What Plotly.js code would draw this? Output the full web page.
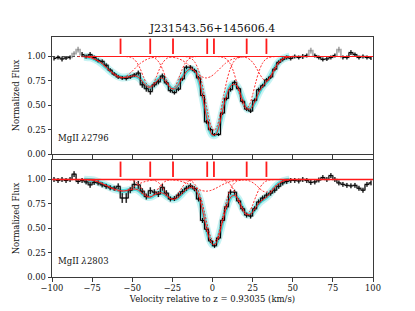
<!DOCTYPE html>
<html>
<head>
<meta charset="utf-8">
<script src="https://cdn.plot.ly/plotly-3.0.1.min.js"></script>
<style>html,body{margin:0;padding:0;background:#fff}#chart{width:415px;height:311px}</style>
</head>
<body>
<div id="chart"></div>
<script>
// ---------- data ----------
const titleText = "J231543.56+145606.4";
const lineLabels = ["MgII <i>λ</i>2796", "MgII <i>λ</i>2803"];
const redshiftLabel = "Velocity relative to z = 0.93035 (km/s)";
const compCenters = [-57.3, -38.8, -24.6, -3.3, 0.9, 21.3, 33.6];

const velBins = [-98.75,-96.25,-93.75,-91.25,-88.75,-86.25,-83.75,-81.25,-78.75,-76.25,
 -73.75,-71.25,-68.75,-66.25,-63.75,-61.25,-58.75,-56.25,-53.75,-51.25,
 -48.75,-46.25,-43.75,-41.25,-38.75,-36.25,-33.75,-31.25,-28.75,-26.25,
 -23.75,-21.25,-18.75,-16.25,-13.75,-11.25,-8.75,-6.25,-3.75,-1.25,
 1.25,3.75,6.25,8.75,11.25,13.75,16.25,18.75,21.25,23.75,
 26.25,28.75,31.25,33.75,36.25,38.75,41.25,43.75,46.25,48.75,
 51.25,53.75,56.25,58.75,61.25,63.75,66.25,68.75,71.25,73.75,
 76.25,78.75,81.25,83.75,86.25,88.75,91.25,93.75,96.25,98.75];

const flux2796 = [0.98,0.99,0.975,0.985,0.99,1.03,1.07,1.02,1.0,1.02,
 0.99,0.96,0.95,0.91,0.86,0.82,0.79,0.78,0.775,0.79,
 0.81,0.83,0.71,0.67,0.64,0.71,0.74,0.80,0.73,0.65,
 0.63,0.665,0.77,0.89,0.89,0.855,0.78,0.60,0.33,0.25,
 0.20,0.20,0.42,0.57,0.66,0.735,0.67,0.54,0.46,0.44,
 0.55,0.66,0.70,0.76,0.79,0.87,0.94,0.97,0.99,0.98,
 1.0,0.99,1.0,1.01,1.06,1.01,0.99,0.97,0.975,0.99,
 1.01,1.07,0.99,0.99,1.04,1.02,0.99,1.0,0.99,0.985];
const err2796 = [0.02,0.02,0.025,0.02,0.02,0.025,0.03,0.025,0.02,0.025,
 0.02,0.02,0.02,0.02,0.02,0.02,0.02,0.02,0.02,0.02,
 0.02,0.025,0.03,0.03,0.03,0.025,0.025,0.025,0.02,0.02,
 0.02,0.02,0.02,0.02,0.02,0.02,0.02,0.02,0.02,0.02,
 0.015,0.015,0.02,0.02,0.02,0.02,0.02,0.02,0.02,0.02,
 0.02,0.02,0.02,0.02,0.02,0.02,0.02,0.02,0.02,0.02,
 0.02,0.02,0.025,0.02,0.03,0.02,0.02,0.02,0.02,0.02,
 0.02,0.03,0.02,0.02,0.025,0.02,0.02,0.02,0.02,0.02];
const mask2796 = [-86.25,-83.75,61.25,78.75];

const flux2803 = [1.0,0.99,1.0,0.99,1.0,1.055,0.98,0.99,0.975,0.945,
 0.97,0.965,0.945,0.93,0.915,0.91,0.93,0.81,0.81,0.89,
 0.95,0.945,0.88,0.825,0.885,0.87,0.85,0.92,0.86,0.80,
 0.805,0.84,0.875,0.91,0.935,0.905,0.80,0.58,0.49,0.37,
 0.32,0.40,0.58,0.72,0.87,0.87,0.78,0.70,0.635,0.625,
 0.70,0.77,0.81,0.84,0.86,0.89,0.93,0.965,0.98,0.99,
 0.99,0.985,1.0,0.99,0.97,0.975,0.995,1.02,1.0,1.04,
 1.0,0.965,0.95,0.94,0.935,0.94,0.91,0.89,0.95,0.965];
const err2803 = [0.025,0.025,0.025,0.025,0.025,0.03,0.025,0.025,0.025,0.03,
 0.025,0.025,0.025,0.025,0.025,0.025,0.03,0.05,0.05,0.03,
 0.04,0.04,0.03,0.03,0.035,0.03,0.03,0.035,0.03,0.025,
 0.025,0.025,0.025,0.025,0.025,0.025,0.025,0.025,0.025,0.02,
 0.02,0.02,0.025,0.025,0.025,0.025,0.025,0.025,0.025,0.025,
 0.025,0.025,0.025,0.025,0.025,0.025,0.025,0.025,0.025,0.025,
 0.025,0.025,0.025,0.025,0.025,0.025,0.025,0.025,0.025,0.025,
 0.025,0.025,0.025,0.025,0.025,0.025,0.025,0.025,0.025,0.025];
const mask2803 = [];

const modelV = [-100,-90,-80,-76,-74,-72,-70,-68,-66,-64,-62,-60,-58,-56,-54,-52,-50,-48,-46,-44,-42,-40,
 -38,-36,-34,-32,-30,-28,-26,-24,-22,-20,-18,-16,-14,-12,-10,-8,-6,-4,-2,0,2,4,6,8,10,12,14,16,18,20,
 22,24,26,28,30,32,34,36,38,40,42,44,46,48,52,60,70,80,90,100];
const model2796 = [null,null,0.998,0.99,0.978,0.962,0.942,0.916,0.886,0.856,0.83,0.808,0.793,0.785,0.786,0.792,0.80,0.80,0.785,0.75,0.71,0.685,
 0.69,0.72,0.76,0.78,0.76,0.715,0.675,0.665,0.69,0.745,0.805,0.85,0.872,0.865,0.825,0.73,0.575,0.40,0.26,0.195,0.20,0.28,0.42,0.555,0.655,0.71,0.715,0.675,0.59,0.505,
 0.46,0.47,0.525,0.60,0.665,0.71,0.745,0.795,0.855,0.915,0.955,0.978,0.99,0.997,1.0,1.0,1.0,1.0,1.0,1.0];
const model2803 = [1.0,1.0,0.998,0.995,0.99,0.98,0.967,0.952,0.937,0.922,0.908,0.897,0.888,0.883,0.884,0.892,0.90,0.902,0.89,0.862,0.835,0.82,
 0.825,0.845,0.86,0.865,0.85,0.825,0.803,0.797,0.81,0.84,0.875,0.903,0.918,0.912,0.88,0.80,0.665,0.515,0.395,0.335,0.34,0.42,0.55,0.675,0.775,0.83,0.835,0.80,0.73,0.665,
 0.638,0.648,0.69,0.74,0.778,0.80,0.825,0.862,0.902,0.94,0.965,0.982,0.992,0.998,1.0,1.0,1.0,1.0,1.0,1.0];
const bandRange = [-82, 50];
const contV2796 = [-78, 100];
const contV2803 = [-100, 100];

// component profiles (velocity, λ2796 flux, λ2803 flux)
const c1V = [-84,-79,-75,-72,-69,-66,-63,-60,-57,-54,-51,-48,-45,-42,-39,-35,-30];
const c1A = [1.0,0.995,0.982,0.962,0.929,0.883,0.834,0.795,0.78,0.795,0.834,0.883,0.929,0.962,0.982,0.995,1.0];
const c1B = [1.0,0.997,0.99,0.979,0.961,0.936,0.909,0.888,0.88,0.888,0.909,0.936,0.961,0.979,0.99,0.997,1.0];
const c2V = [-54,-51,-49,-47,-45,-43,-41,-39,-37,-35,-33,-31,-29,-27,-24];
const c2A = [1.0,0.991,0.974,0.936,0.873,0.791,0.719,0.69,0.719,0.791,0.873,0.936,0.974,0.991,1.0];
const c2B = [1.0,0.995,0.985,0.963,0.926,0.879,0.837,0.82,0.837,0.879,0.926,0.963,0.985,0.995,1.0];
const c3V = [-40,-37,-35,-33,-31,-29,-27,-25,-23,-21,-19,-17,-15,-13,-10];
const c3A = [1.0,0.991,0.972,0.932,0.864,0.778,0.701,0.67,0.701,0.778,0.864,0.932,0.972,0.991,1.0];
const c3B = [1.0,0.994,0.983,0.959,0.918,0.865,0.819,0.80,0.819,0.865,0.918,0.959,0.983,0.994,1.0];
const c4V = [-31,-26,-22,-19,-16,-13,-10,-7,-4,-1,2,5,8,11,14,18,23];
const c4A = [1.0,0.995,0.982,0.962,0.929,0.883,0.834,0.795,0.78,0.795,0.834,0.883,0.929,0.962,0.982,0.995,1.0];
const c4B = [1.0,0.997,0.99,0.979,0.961,0.936,0.909,0.888,0.88,0.888,0.909,0.936,0.961,0.979,0.99,0.997,1.0];
const c5V = [-19,-16,-13,-11,-9,-7,-5,-3,-1,1,3,5,7,9,11,13,15,18,21];
const c5A = [1.0,0.996,0.977,0.942,0.872,0.758,0.600,0.429,0.292,0.24,0.292,0.429,0.600,0.758,0.872,0.942,0.977,0.996,1.0];
const c5B = [1.0,0.996,0.981,0.951,0.892,0.796,0.663,0.519,0.404,0.36,0.404,0.519,0.663,0.796,0.892,0.951,0.981,0.996,1.0];
const c6V = [1,4,7,9,11,13,15,17,19,21,23,25,27,29,31,33,35,38,41];
const c6A = [1,0.998,0.989,0.97,0.927,0.85,0.737,0.608,0.502,0.46,0.502,0.608,0.737,0.85,0.927,0.97,0.989,0.998,1];
const c6B = [1,0.999,0.993,0.98,0.951,0.90,0.825,0.739,0.668,0.64,0.668,0.739,0.825,0.90,0.951,0.98,0.993,0.999,1];
const c7V = [16,19.5,21.5,23.5,25.5,27.5,29.5,31.5,33.5,35.5,37.5,39.5,41.5,43.5,45.5,47.5,51];
const c7A = [1,0.995,0.986,0.966,0.93,0.878,0.818,0.769,0.75,0.769,0.818,0.878,0.93,0.966,0.986,0.995,1];
const c7B = [1,0.997,0.993,0.982,0.964,0.937,0.906,0.88,0.87,0.88,0.906,0.937,0.964,0.982,0.993,0.997,1];

// ---------- build ----------
const FONT = "DejaVu Serif";
const RED = "#ff1a1a";
const CYAN = "rgb(0,200,200)";
const panels = [
  {xa:"x", ya:"y", flux:flux2796, err:err2796, mask:mask2796, model:model2796, cont:contV2796,
   comps:[[c1V,c1A],[c2V,c2A],[c3V,c3A],[c4V,c4A],[c5V,c5A],[c6V,c6A],[c7V,c7A]]},
  {xa:"x2", ya:"y2", flux:flux2803, err:err2803, mask:mask2803, model:model2803, cont:contV2803,
   comps:[[c1V,c1B],[c2V,c2B],[c3V,c3B],[c4V,c4B],[c5V,c5B],[c6V,c6B],[c7V,c7B]]}
];
const traces = [];
panels.forEach((p, k) => {
  const base = {xaxis:p.xa, yaxis:p.ya, showlegend:false, hoverinfo:"skip"};
  // dashed unit line
  traces.push(Object.assign({x:[-100,100], y:[1,1], mode:"lines",
    line:{color:"#555", width:1, dash:"3px,2px"}}, base));
  // cyan sample band (only over the fitted region)
  const bx = [], by = [];
  modelV.forEach((v, i) => { if (v >= bandRange[0] && v <= bandRange[1] && p.model[i] !== null) { bx.push(v); by.push(p.model[i]); } });
  traces.push(Object.assign({x:bx, y:by, mode:"lines",
    line:{color:CYAN, width:8, shape:"spline", smoothing:0.8}, opacity:0.22}, base));
  traces.push(Object.assign({x:bx, y:by, mode:"lines",
    line:{color:CYAN, width:4, shape:"spline", smoothing:0.8}, opacity:0.6}, base));
  // gray data
  traces.push(Object.assign({x:velBins, y:p.flux, mode:"lines",
    line:{color:"rgba(120,120,120,0.6)", width:1.8, shape:"hvh"},
    error_y:{type:"data", array:p.err, visible:true, color:"rgba(120,120,120,0.6)", thickness:1.8, width:0}}, base));
  // black data
  const yb = p.flux.map((f, i) => p.mask.indexOf(velBins[i]) >= 0 ? null : f);
  traces.push(Object.assign({x:velBins, y:yb, mode:"lines", connectgaps:false,
    line:{color:"#000", width:1, shape:"hvh"},
    error_y:{type:"data", array:p.err, visible:true, color:"#000", thickness:1, width:0}}, base));
  // continuum
  traces.push(Object.assign({x:p.cont, y:[1,1], mode:"lines",
    line:{color:RED, width:k===0?1:1.6}}, base));
  // components
  p.comps.forEach(c => {
    traces.push(Object.assign({x:c[0], y:c[1], mode:"lines",
      line:{color:RED, width:0.9, dash:"2px,1.5px", shape:"spline", smoothing:0.8}}, base));
  });
  // total model
  traces.push(Object.assign({x:modelV, y:p.model, mode:"lines",
    line:{color:RED, width:1, shape:"spline", smoothing:0.8}}, base));
  // component ticks
  traces.push(Object.assign({x:compCenters, y:compCenters.map(() => 1.105), mode:"markers",
    marker:{symbol:"line-ns-open", size:11, color:RED, line:{color:RED, width:1.8}}}, base));
});

const axisCommon = {
  showline:true, mirror:true, linecolor:"#3a3a3a", linewidth:1,
  showgrid:false, zeroline:false, ticks:"outside", ticklen:3.5, tickwidth:1, tickcolor:"#3a3a3a",
  tickfont:{family:FONT, size:8.3, color:"#111"}
};
const xCommon = Object.assign({}, axisCommon, {range:[-100,100], tickmode:"array",
  tickvals:[-100,-75,-50,-25,0,25,50,75,100]});
const yCommon = Object.assign({}, axisCommon, {range:[0,1.2], tickmode:"array",
  tickvals:[0,0.25,0.5,0.75,1.0], tickformat:".2f",
  title:{text:"Normalized Flux", font:{family:FONT, size:8.5, color:"#111"}, standoff:6}});

const layout = {
  width:415, height:311,
  margin:{l:52, r:42, t:37, b:34},
  paper_bgcolor:"#fff", plot_bgcolor:"#fff",
  title:{text:titleText, font:{family:FONT, size:11, color:"#111"},
    x:0.5, xref:"paper", xanchor:"center", y:1-28/311, yref:"container", yanchor:"middle"},
  xaxis:Object.assign({}, xCommon, {anchor:"y", showticklabels:false}),
  xaxis2:Object.assign({}, xCommon, {anchor:"y2",
    title:{text:redshiftLabel, font:{family:FONT, size:8.5, color:"#111"}, standoff:3}}),
  yaxis:Object.assign({}, yCommon, {domain:[0.5125,1], anchor:"x"}),
  yaxis2:Object.assign({}, yCommon, {domain:[0,0.4875], anchor:"x2"}),
  annotations:[
    {text:lineLabels[0], xref:"x domain", yref:"y domain", x:0.012, y:0.135, xanchor:"left", yanchor:"middle",
     showarrow:false, font:{family:FONT, size:8.5, color:"#111"}},
    {text:lineLabels[1], xref:"x2 domain", yref:"y2 domain", x:0.012, y:0.135, xanchor:"left", yanchor:"middle",
     showarrow:false, font:{family:FONT, size:8.5, color:"#111"}}
  ]
};
Plotly.newPlot("chart", traces, layout, {staticPlot:true, displayModeBar:false});
</script>
</body>
</html>
